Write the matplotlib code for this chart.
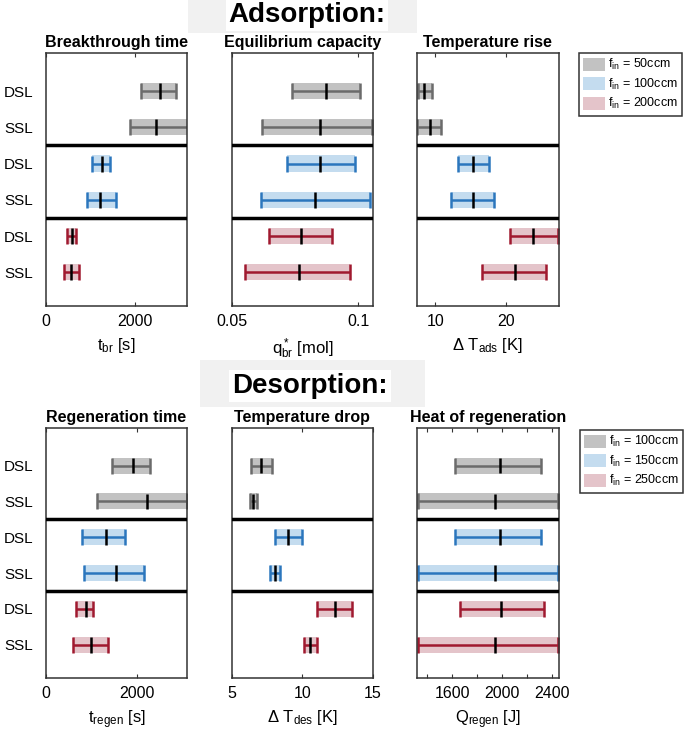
import numpy as np
import matplotlib
matplotlib.use('Agg')
import matplotlib.pyplot as plt
from matplotlib.patches import Patch, Rectangle

plt.rcParams['font.family'] = ['Liberation Sans', 'DejaVu Sans']
plt.rcParams['mathtext.fontset'] = 'custom'
plt.rcParams['mathtext.rm'] = 'Liberation Sans'
plt.rcParams['mathtext.it'] = 'Liberation Sans:italic'

# rows (top to bottom) inside each panel
row_labels = ['DSL', 'SSL', 'DSL', 'SSL', 'DSL', 'SSL']
flows_ads = ['50ccm', '100ccm', '200ccm']
flows_des = ['100ccm', '150ccm', '250ccm']

# adsorption
t_br_lo = [2144, 1903, 1030, 917, 481, 413]
t_br_mid = [2573, 2490, 1256, 1218, 578, 571]
t_br_hi = [2941, 3250, 1451, 1580, 677, 745]

q_br_lo = [0.0739, 0.0621, 0.0717, 0.0616, 0.0647, 0.0551]
q_br_mid = [0.0875, 0.0850, 0.0849, 0.0828, 0.0774, 0.0766]
q_br_hi = [0.1009, 0.1057, 0.0988, 0.1047, 0.0897, 0.0967]

dT_ads_lo = [7.52, 7.42, 13.22, 12.18, 20.53, 16.59]
dT_ads_mid = [8.44, 9.19, 15.31, 15.26, 23.89, 21.28]
dT_ads_hi = [9.52, 10.75, 17.54, 18.29, 27.38, 25.65]

# desorption
t_regen_lo = [1450, 1121, 791, 827, 651, 593]
t_regen_mid = [1912, 2220, 1325, 1538, 871, 989]
t_regen_hi = [2292, 3090, 1728, 2145, 1040, 1363]

dT_des_lo = [6.40, 6.33, 8.08, 7.73, 11.07, 10.12]
dT_des_mid = [7.09, 6.54, 9.00, 8.03, 12.30, 10.57]
dT_des_hi = [7.84, 6.80, 9.95, 8.41, 13.53, 11.07]

Q_regen_lo = [1626, 1325, 1626, 1325, 1661, 1325]
Q_regen_mid = [1981, 1944, 1981, 1944, 1987, 1944]
Q_regen_hi = [2309, 2445, 2309, 2445, 2333, 2445]

line_cols = ['#6b6b6b', '#2b76bd', '#a0192f']
fill_cols = ['#c2c2c2', '#c4dcef', '#e4c4ca']

W, H = 685, 733
fig = plt.figure(figsize=(W / 100, H / 100), dpi=100)

def box(x0, y0, x1, y1):
    return [x0 / W, 1 - y1 / H, (x1 - x0) / W, (y1 - y0) / H]

# light grey screenshot strips behind the section headers
fig.patches.append(Rectangle((188 / W, 1 - 33 / H), 229 / W, 33 / H, transform=fig.transFigure,
                             facecolor='#f1f1f1', edgecolor='none', zorder=0))
fig.patches.append(Rectangle((200 / W, 1 - 407 / H), 225 / W, 47 / H, transform=fig.transFigure,
                             facecolor='#f1f1f1', edgecolor='none', zorder=0))
fig.text(307 / W, 1 - 15 / H, 'Adsorption:', ha='center', va='center', fontsize=20, fontweight='bold',
         bbox=dict(facecolor='white', edgecolor='none', pad=2))
fig.text(310 / W, 1 - 386 / H, 'Desorption:', ha='center', va='center', fontsize=20, fontweight='bold',
         bbox=dict(facecolor='white', edgecolor='none', pad=2))

def panel(rect, lo, mid, hi, xlim, xticks, xticklabels, title, xlabel, ylabels):
    ax = fig.add_axes(rect)
    y = np.arange(1, 7)
    for i in range(6):
        g = i // 2
        ax.barh(y[i], hi[i] - lo[i], left=lo[i], height=0.45, color=fill_cols[g], zorder=1)
        ax.errorbar(mid[i], y[i], xerr=[[mid[i] - lo[i]], [hi[i] - mid[i]]], fmt='none',
                    ecolor=line_cols[g], elinewidth=1.8, capsize=5.5, capthick=1.8, zorder=2)
        ax.vlines(mid[i], y[i] - 0.22, y[i] + 0.22, color='k', lw=1.8, zorder=3)
    for s in [2.5, 4.5]:
        ax.axhline(s, color='k', lw=2.5, zorder=4)
    ax.set_xlim(*xlim)
    ax.set_ylim(6.93, -0.05)
    ax.set_xticks(xticks)
    ax.set_xticklabels(xticklabels)
    ax.tick_params(axis='x', direction='in', length=3, top=True, labelsize=11.5, pad=6, color='#333333')
    ax.set_yticks(y)
    if ylabels:
        ax.set_yticklabels(row_labels)
        ax.tick_params(axis='y', length=0, labelsize=11, pad=9)
    else:
        ax.set_yticklabels([])
        ax.tick_params(axis='y', length=0)
    for sp in ax.spines.values():
        sp.set_linewidth(1.1)
        sp.set_color('#333333')
    ax.set_title(title, fontsize=11.5, fontweight='bold', pad=4)
    ax.set_xlabel(xlabel, fontsize=12, labelpad=5)
    return ax

top = (53, 306)
bot = (428, 678)
cols = [(46, 187), (231.7, 373), (417, 558.5)]

panel(box(cols[0][0], top[0], cols[0][1], top[1]), t_br_lo, t_br_mid, t_br_hi,
      (0, 3180), [0, 2000], ['0', '2000'], 'Breakthrough time', r'$\mathregular{t_{br}}$ [s]', True)
panel(box(cols[1][0], top[0], cols[1][1], top[1]), q_br_lo, q_br_mid, q_br_hi,
      (0.05, 0.1059), [0.05, 0.1], ['0.05', '0.1'], 'Equilibrium capacity',
      r'$\mathregular{q^*_{br}}$ [mol]', False)
panel(box(cols[2][0], top[0], cols[2][1], top[1]), dT_ads_lo, dT_ads_mid, dT_ads_hi,
      (7.38, 27.44), [10, 20], ['10', '20'], 'Temperature rise', r'Δ $\mathregular{T_{ads}}$ [K]', False)

panel(box(cols[0][0], bot[0], cols[0][1], bot[1]), t_regen_lo, t_regen_mid, t_regen_hi,
      (0, 3100), [0, 2000], ['0', '2000'], 'Regeneration time', r'$\mathregular{t_{regen}}$ [s]', True)
panel(box(cols[1][0], bot[0], cols[1][1], bot[1]), dT_des_lo, dT_des_mid, dT_des_hi,
      (5, 15), [5, 10, 15], ['5', '10', '15'], 'Temperature drop', r'Δ $\mathregular{T_{des}}$ [K]', False)
panel(box(cols[2][0], bot[0], cols[2][1], bot[1]), Q_regen_lo, Q_regen_mid, Q_regen_hi,
      (1320, 2450), [1400, 1600, 1800, 2000, 2200, 2400], ['', '1600', '', '2000', '', '2400'],
      'Heat of regeneration', r'$\mathregular{Q_{regen}}$ [J]', False)

def legend(flows, x0, y0):
    handles = [Patch(facecolor=fill_cols[k], edgecolor='none') for k in range(3)]
    labels = [r'$\mathregular{f_{in}}$ = ' + f for f in flows]
    lg = fig.legend(handles, labels, loc='upper left', bbox_to_anchor=(x0 / W, 1 - y0 / H),
                    fontsize=9, frameon=True, fancybox=False, framealpha=1, edgecolor='#333333',
                    handlelength=1.7, handleheight=1.2, handletextpad=0.25, labelspacing=0.35,
                    borderpad=0.35, borderaxespad=0)
    lg.get_frame().set_linewidth(1.1)

legend(flows_ads, 579, 53)
legend(flows_des, 580, 430)

fig.savefig('out.png', dpi=100)
